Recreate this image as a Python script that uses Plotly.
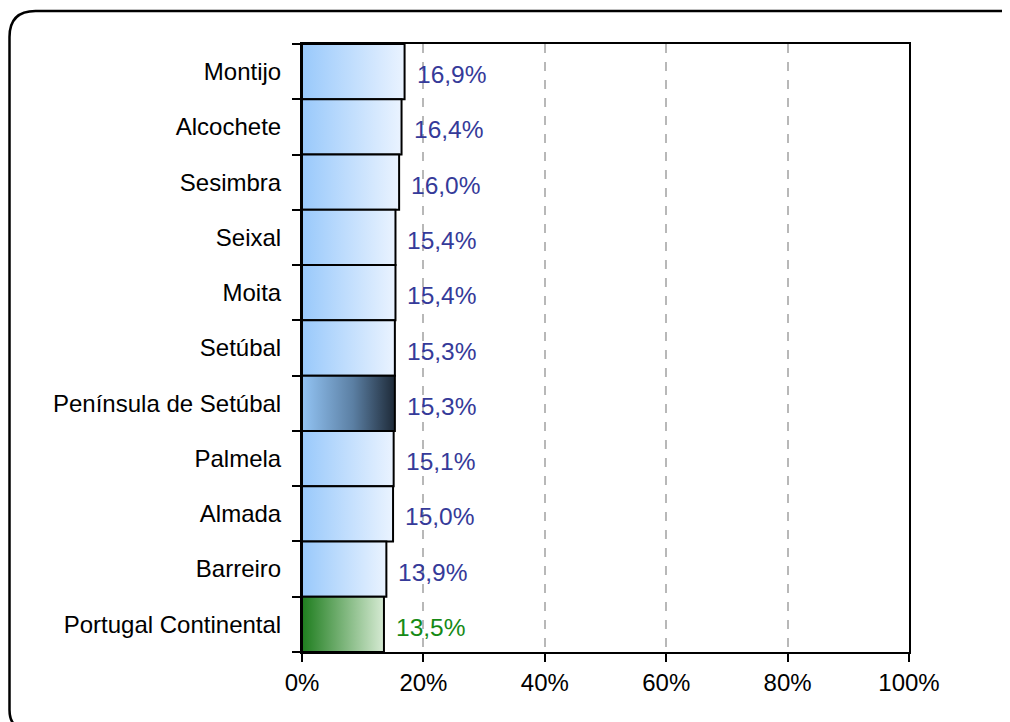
import plotly.graph_objects as go

categories = [
    "Montijo", "Alcochete", "Sesimbra", "Seixal", "Moita", "Setúbal",
    "Península de Setúbal", "Palmela", "Almada", "Barreiro", "Portugal Continental",
]
values = [16.9, 16.4, 16.0, 15.4, 15.4, 15.3, 15.3, 15.1, 15.0, 13.9, 13.5]
x_ticks = [0, 20, 40, 60, 80, 100]

BLUE = [[0, "#99c9fb"], [1, "#eaf3ff"]]
DARK = [[0, "#93c4f4"], [0.55, "#5b7fa3"], [1, "#1e2a38"]]
GREEN = [[0, "#1e7d1e"], [1, "#d6ead3"]]
LABEL_BLUE = "#353a99"
LABEL_GREEN = "#168a16"

fig = go.Figure()
half = 0.5
for i, (cat, v) in enumerate(zip(categories, values)):
    if cat == "Península de Setúbal":
        scale, tcol = DARK, LABEL_BLUE
    elif cat == "Portugal Continental":
        scale, tcol = GREEN, LABEL_GREEN
    else:
        scale, tcol = BLUE, LABEL_BLUE
    fig.add_trace(go.Scatter(
        x=[0, v, v, 0, 0],
        y=[i - half, i - half, i + half, i + half, i - half],
        mode="lines",
        fill="toself",
        fillgradient=dict(type="horizontal", colorscale=scale),
        line=dict(color="black", width=2),
        hoverinfo="skip",
        showlegend=False,
    ))
    fig.add_annotation(
        x=v, y=i, text=f"{v:.1f}%".replace(".", ","),
        xanchor="left", yanchor="middle", xshift=10, yshift=-3,
        showarrow=False, font=dict(size=24.5, color=tcol),
    )

# rounded frame around the chart (figure pixels converted to paper coords)
W, L, T, H = 607, 294, 36, 608
px = lambda p: (p - L) / W
py = lambda p: (T + H - p) / H
r = 26
path = (
    f"M {px(1.5 + 20)},{py(722)} Q {px(1.5)},{py(722)} {px(1.5)},{py(702)} "
    f"L {px(1.5)},{py(3 + r)} "
    f"Q {px(1.5)},{py(3)} {px(1.5 + r)},{py(3)} "
    f"L {px(992)},{py(3)} Q {px(1004)},{py(3)} {px(1006)},{py(12)}"
)
fig.add_shape(type="path", path=path, xref="paper", yref="paper",
              line=dict(color="black", width=2.5), layer="below")

fig.update_layout(
    width=1010, height=722,
    margin=dict(l=294, r=109, t=36, b=78),
    paper_bgcolor="white", plot_bgcolor="white",
    font=dict(family="Liberation Sans, Arial, sans-serif", size=24, color="black"),
    showlegend=False,
)
fig.update_xaxes(
    range=[0, 100], tickvals=x_ticks, ticktext=[f"{t}%" for t in x_ticks],
    showgrid=True, gridcolor="#b8b8b8", griddash="dash", gridwidth=1.5,
    showline=True, mirror=True, linecolor="black", linewidth=2,
    ticks="outside", ticklen=8, tickcolor="black", tickwidth=2,
    zeroline=False, fixedrange=True,
)
fig.update_yaxes(
    range=[len(categories) - 0.5, -0.5],
    tickmode="array", tickvals=list(range(len(categories))), ticktext=categories,
    ticks="", ticklabelstandoff=14,
    minor=dict(tickmode="array", tickvals=[k - 0.5 for k in range(len(categories) + 1)],
               ticks="outside", ticklen=8, tickcolor="black", tickwidth=2, showgrid=False),
    showgrid=False, showline=True, mirror=True, linecolor="black", linewidth=2,
    zeroline=False, fixedrange=True,
)

fig.write_html("out.html")
